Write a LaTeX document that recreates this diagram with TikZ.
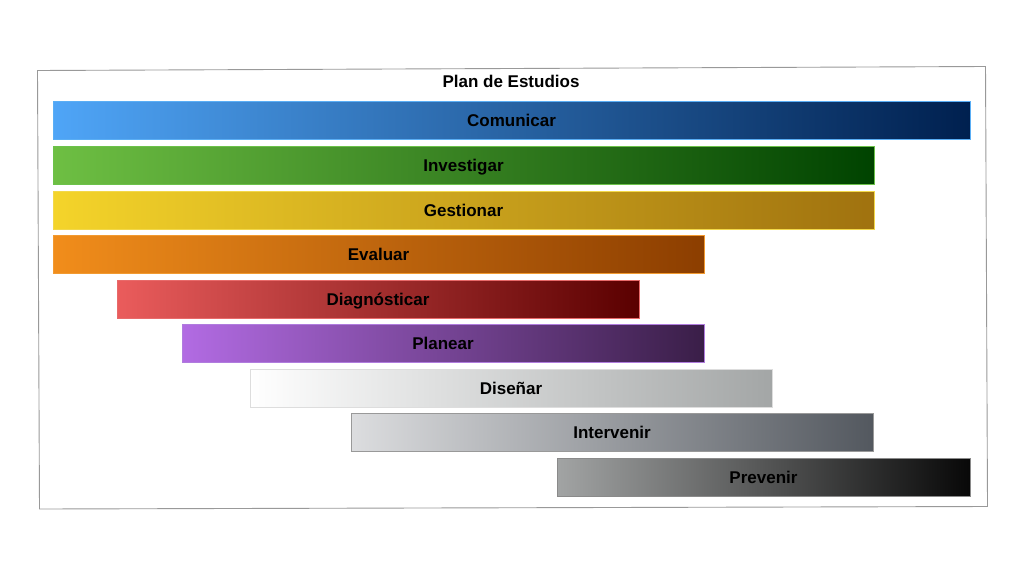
\documentclass[tikz,border=0pt]{standalone}
\usepackage{fontspec}
\setmainfont{Liberation Sans}
\begin{document}
\begin{tikzpicture}[x=1pt,y=-1pt,
  bar/.style n args={3}{draw=#3, line width=0.8pt, left color=#1, right color=#2, inner sep=0pt,
    text height=12.2pt, text depth=0pt,
    font=\fontsize{17}{20}\selectfont\bfseries, text=black},
]
\definecolor{c1a}{HTML}{4FA5F7}\definecolor{c1b}{HTML}{00204F}\definecolor{c1d}{HTML}{5AAEF5}
\definecolor{c2a}{HTML}{6EBF43}\definecolor{c2b}{HTML}{004300}\definecolor{c2d}{HTML}{6CC24A}
\definecolor{c3a}{HTML}{F4D42A}\definecolor{c3b}{HTML}{A0720F}\definecolor{c3d}{HTML}{F2D84A}
\definecolor{c4a}{HTML}{F18D1B}\definecolor{c4b}{HTML}{8C3E00}\definecolor{c4d}{HTML}{F29A30}
\definecolor{c5a}{HTML}{EA5C5C}\definecolor{c5b}{HTML}{5A0000}\definecolor{c5d}{HTML}{E86A6A}
\definecolor{c6a}{HTML}{B26BE3}\definecolor{c6b}{HTML}{3A1E48}\definecolor{c6d}{HTML}{B07CDE}
\definecolor{c7a}{HTML}{FFFFFF}\definecolor{c7b}{HTML}{A3A6A6}\definecolor{c7d}{HTML}{DDDDDD}
\definecolor{c8a}{HTML}{DCDDDF}\definecolor{c8b}{HTML}{53585F}\definecolor{c8d}{HTML}{999999}
\definecolor{c9a}{HTML}{A2A4A4}\definecolor{c9b}{HTML}{080808}\definecolor{c9d}{HTML}{8A8A8A}
\useasboundingbox (0,0) rectangle (1024,576);
\fill[white] (0,0) rectangle (1024,576);
\draw[gray!80, line width=0.9pt] (37.5,70.5) -- (985.5,66.5) -- (987.5,506.5) -- (39.5,509) -- cycle;
\node[font=\fontsize{17}{20}\selectfont\bfseries] (title) at (511,81) {Plan de Estudios};
\node[bar={c1a}{c1b}{c1d}, minimum width=917, minimum height=38] (b1) at (511.5,120) {Comunicar};
\node[bar={c2a}{c2b}{c2d}, minimum width=821, minimum height=38] (b2) at (463.5,165) {Investigar};
\node[bar={c3a}{c3b}{c3d}, minimum width=821, minimum height=38] (b3) at (463.5,210) {Gestionar};
\node[bar={c4a}{c4b}{c4d}, minimum width=651, minimum height=38] (b4) at (378.5,254) {Evaluar};
\node[bar={c5a}{c5b}{c5d}, minimum width=522, minimum height=38] (b5) at (378,299) {Diagnósticar};
\node[bar={c6a}{c6b}{c6d}, minimum width=522, minimum height=38] (b6) at (443,343) {Planear};
\node[bar={c7a}{c7b}{c7d}, minimum width=522, minimum height=38] (b7) at (511,388) {Diseñar};
\node[bar={c8a}{c8b}{c8d}, minimum width=522, minimum height=38] (b8) at (612,432) {Intervenir};
\node[bar={c9a}{c9b}{c9d}, minimum width=413, minimum height=38] (b9) at (763.5,477) {Prevenir};
\end{tikzpicture}
\end{document}
